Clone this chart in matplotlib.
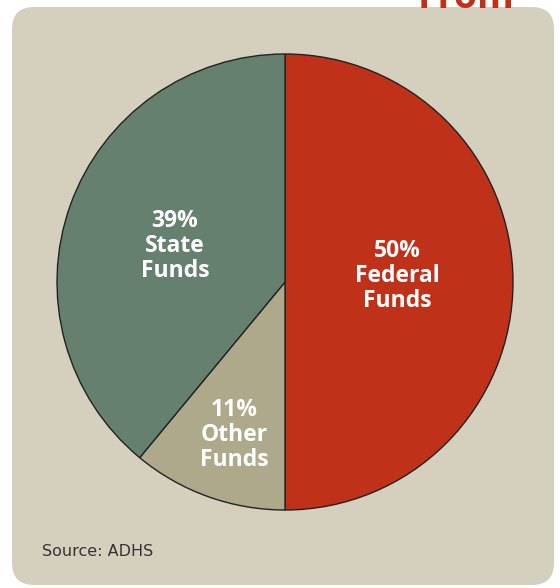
import matplotlib
matplotlib.use("Agg")
import matplotlib.pyplot as plt
from matplotlib.patches import FancyBboxPatch

categories = ["Federal Funds", "Other Funds", "State Funds"]
values = [50, 11, 39]
colors = ["#C0311A", "#ADA98A", "#66806F"]
label_pos = [(397, 276), (234, 435), (175, 246)]

W, H = 560, 588
fig = plt.figure(figsize=(W/100, H/100), dpi=100)
ax = fig.add_axes([0, 0, 1, 1])
ax.set_xlim(0, W)
ax.set_ylim(0, H)
ax.set_aspect('equal')
ax.axis('off')

panel = FancyBboxPatch((12 + 22, 3 + 22), 542 - 44, 578 - 44,
                       boxstyle="round,pad=22,rounding_size=22",
                       facecolor="#D5CFBD", edgecolor="none", zorder=0)
ax.add_patch(panel)

ax.text(466, H - 8, "From", color="#C0311A", fontsize=27, fontweight='bold',
        family="Open Sans", ha='center', va='baseline', zorder=1)

ax.pie(values, colors=colors, startangle=90, counterclock=False,
       center=(285, H - 282), radius=228, frame=True,
       wedgeprops=dict(edgecolor="#222222", linewidth=1))
ax.set_xlim(0, W)
ax.set_ylim(0, H)
ax.axis('off')

for cat, v, (px, py) in zip(categories, values, label_pos):
    word1, word2 = cat.split()
    ax.text(px, H - py, f"{v}%\n{word1}\n{word2}", color="white", fontsize=16.5,
            fontweight='bold', family="Open Sans", ha='center', va='center',
            linespacing=1.05, zorder=5)

ax.text(42, H - 552, "Source: ADHS", color="#333333", fontsize=11.5,
        family="DejaVu Sans", ha='left', va='center')

fig.savefig("out.png", dpi=100)
